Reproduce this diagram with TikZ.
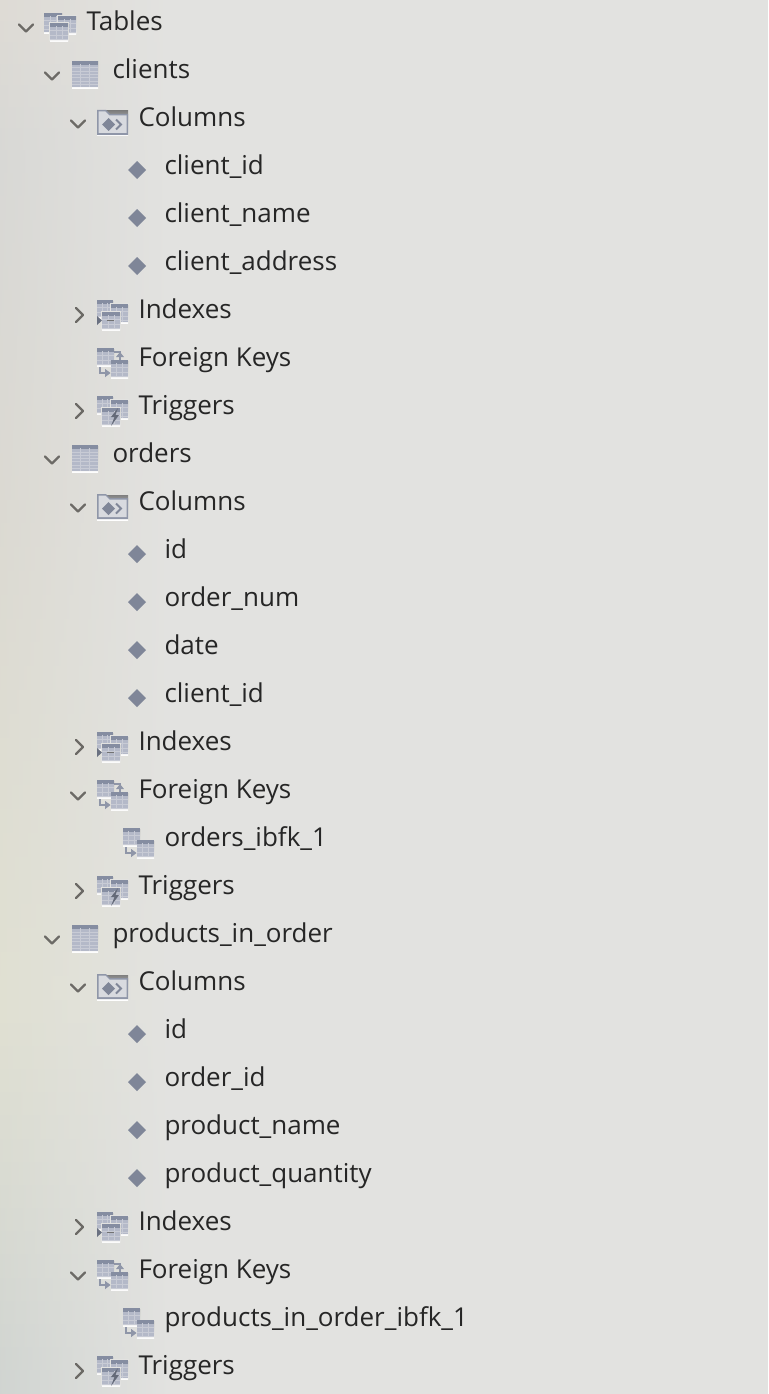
\documentclass[tikz,border=0pt]{standalone}
\usepackage{fontspec}
\setmainfont{Open Sans}
\definecolor{bgmain}{HTML}{E2E2E0}
\definecolor{head}{HTML}{858DA1}
\definecolor{body}{HTML}{B4B9C8}
\definecolor{gridc}{HTML}{C8CBD5}
\definecolor{edge}{HTML}{8F96A8}
\definecolor{shade}{HTML}{F0F0EE}
\definecolor{foldin}{HTML}{D8DADF}
\definecolor{dia}{HTML}{7F8698}
\definecolor{chev}{HTML}{6C6A66}
\definecolor{ink}{HTML}{262626}
\definecolor{wpa}{HTML}{DEDBD5}
\definecolor{wpb}{HTML}{D8D8D5}
\definecolor{wpc}{HTML}{DBD9D2}
\definecolor{wpd}{HTML}{E0E0D2}
\definecolor{wpe}{HTML}{D0D4D1}
\tikzset{
  rowtext/.style={anchor=base west,inner sep=0pt,outer sep=0pt,text=ink,font=\fontsize{26}{30}\selectfont},
  chevline/.style={draw=chev,line width=2.4pt,line cap=round,line join=round},
  linkline/.style={draw=edge,line width=1.6pt},
}
\newcommand{\gs}{4.2}
% mini table: x0 y0 x1 y1
\newcommand{\mt}[4]{%
  \fill[shade] (#1,#2+1) rectangle (#3,#4+1.5);
  \fill[body] (#1,#2) rectangle (#3,#4);
  \fill[head] (#1,#2) rectangle (#3,#2+3.6);
  \begin{scope}
    \clip (#1,#2+3.6) rectangle (#3,#4);
    \draw[gridc,line width=.8pt] (#1+.3333*#3-.3333*#1,#2) -- (#1+.3333*#3-.3333*#1,#4)
      (#1+.6667*#3-.6667*#1,#2) -- (#1+.6667*#3-.6667*#1,#4);
    \foreach \k in {1,...,6}{\draw[gridc,line width=.8pt] (#1,#2+3.6+\k*\gs) -- (#3,#2+3.6+\k*\gs);}
  \end{scope}
}
% front table with a light frame
\newcommand{\mtf}[4]{%
  \fill[bgmain] (#1-1,#2-1) rectangle (#3+1,#4+1);
  \mt{#1}{#2}{#3}{#4}%
}
\newcommand{\icoG}{% group of tables
  \mt{-43}{-8}{-25}{11}\mtf{-29}{-5}{-11}{12}\mtf{-37}{2}{-19}{19}}
\newcommand{\icoT}{{\renewcommand{\gs}{3.3}\mt{-41}{-8}{-15}{18}}}
\newcommand{\icoC}{% folder with diamond
  \fill[shade] (-42,-6) rectangle (-11,19);
  \fill[edge] (-42,-7) -- (-33,-7) -- (-29,-3) -- (-11,-3) -- (-11,18) -- (-42,18) -- cycle;
  \fill[foldin] (-40.5,-5.5) -- (-33.6,-5.5) -- (-29.6,-1.5) -- (-12.5,-1.5) -- (-12.5,16) -- (-40.5,16) -- cycle;
  \fill[dia] (-30.5,1) -- (-24,7.5) -- (-30.5,14) -- (-37,7.5) -- cycle;
  \draw[dia,line width=1.8pt] (-23,2.5) -- (-18,7.5) -- (-23,12.5);
}
\newcommand{\icoD}{\fill[dia] (-28,-4) -- (-19,5) -- (-28,14) -- (-37,5) -- cycle;}
\newcommand{\icoI}{%
  \mt{-42}{-9}{-26}{8}\mtf{-28}{-5}{-11}{13}\mtf{-37}{3}{-19}{20}
  \draw[ink!65,line width=1.6pt] (-32,11.5) -- (-25,11.5);
  \fill[head!80!black] (-42,7) -- (-37,11.5) -- (-42,16) -- cycle;}
\newcommand{\linkdown}{%
  \draw[linkline] (-39,8) -- (-39,16) -- (-30,16);
  \fill[edge] (-34,12) -- (-29,16) -- (-34,20) -- cycle;}
\newcommand{\icoK}{%
  \linkdown
  \mt{-42}{-9}{-25}{8}\mt{-28}{3}{-11}{20}
  \fill[edge] (-34,12) -- (-28.5,16) -- (-34,20) -- cycle;}
\newcommand{\icoF}{%
  \draw[linkline] (-25,-5) -- (-19,-5) -- (-19,3);
  \fill[edge] (-23,0) -- (-19,-5) -- (-15,0) -- cycle;
  \icoK}
\newcommand{\icoL}{% trigger: group with bolt
  \mt{-42}{-9}{-26}{8}\mtf{-28}{-5}{-11}{13}\mtf{-37}{3}{-19}{20}
  \fill[head!75!black] (-21,3) -- (-28,12) -- (-24.5,12) -- (-28,21) -- (-20,10) -- (-23.5,10) -- cycle;}
\newcommand{\chevd}{\draw[chevline] (-68,3.5) -- (-61,10.5) -- (-54,3.5);}
\newcommand{\chevr}{\draw[chevline] (-63,-1) -- (-56,6) -- (-63,13);}
\newcommand{\chevn}{}
\begin{document}
\begin{tikzpicture}[x=1pt,y=-1pt]
\useasboundingbox (0,0) rectangle (768,1394);
\fill[bgmain] (0,0) rectangle (768,1394);
% soft tint along the left edge: slices running from a tint to the main colour
\foreach \ya/\yb/\ca/\cb in {0/150/wpa/wpb,150/500/wpb/wpc,500/1000/wpc/wpd,1000/1394/wpd/wpe}{
  \pgfmathsetmacro{\nn}{int(ceil((\yb-\ya)/24))}
  \foreach \s in {1,...,\nn}{
    \pgfmathsetmacro{\pc}{100*(1-(\s-.5)/\nn)}
    \pgfmathsetmacro{\ys}{\ya+(\s-1)*(\yb-\ya)/\nn}
    \pgfmathsetmacro{\yt}{\ya+\s*(\yb-\ya)/\nn+.6}
    \colorlet{lc}{\ca!\pc!\cb}
    \shade[left color=lc,right color=bgmain] (0,\ys) rectangle (170,\yt);
  }
}
\foreach \lev/\chv/\ico/\txt [count=\i from 0] in {
  0/d/G/Tables,
  1/d/T/clients,
  2/d/C/Columns,
  3/n/D/client\_id,
  3/n/D/client\_name,
  3/n/D/client\_address,
  2/r/I/Indexes,
  2/n/F/Foreign Keys,
  2/r/L/Triggers,
  1/d/T/orders,
  2/d/C/Columns,
  3/n/D/id,
  3/n/D/order\_num,
  3/n/D/date,
  3/n/D/client\_id,
  2/r/I/Indexes,
  2/d/F/Foreign Keys,
  3/n/K/orders\_ibfk\_1,
  2/r/L/Triggers,
  1/d/T/products\_in\_order,
  2/d/C/Columns,
  3/n/D/id,
  3/n/D/order\_id,
  3/n/D/product\_name,
  3/n/D/product\_quantity,
  2/r/I/Indexes,
  2/d/F/Foreign Keys,
  3/n/K/products\_in\_order\_ibfk\_1,
  2/r/L/Triggers}{
  \pgfmathsetmacro{\px}{87+26*\lev}
  \pgfmathsetmacro{\py}{21+48*\i}
  \begin{scope}[shift={(\px,\py)}]
    \csname chev\chv\endcsname
    \csname ico\ico\endcsname
    \node[rowtext] (row\i) at (-.5,9.6) {\txt};
  \end{scope}
}
\end{tikzpicture}
\end{document}
